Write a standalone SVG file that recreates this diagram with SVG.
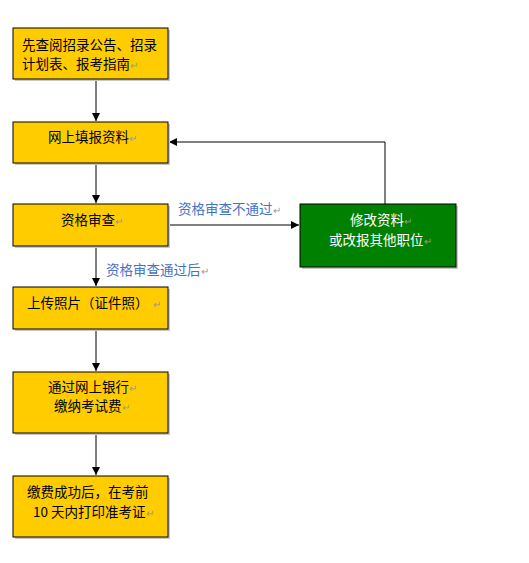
<svg xmlns="http://www.w3.org/2000/svg" width="529" height="563" viewBox="0 0 529 563">
<style>
.box{fill:#FFCC00;stroke:#000;stroke-width:1}
.gbox{fill:#008000;stroke:#000;stroke-width:1}
.sh{fill:#C8C8C8}
text{font-family:"Noto Sans CJK SC","Liberation Sans",sans-serif;font-size:13.5px;fill:#000}
.w{fill:#fff}
.lbl{fill:#4472C4}
.pm{fill:#999;font-size:10px}
.ln{stroke:#000;stroke-width:1;fill:none}
</style>
<defs>
<marker id="ah" viewBox="0 0 10 10" refX="10" refY="5" markerWidth="8" markerHeight="8" markerUnits="userSpaceOnUse" orient="auto">
<path d="M0,0 L10,5 L0,10 z" fill="#000"/>
</marker>
</defs>
<rect width="529" height="563" fill="#fff"/>
<g id="connectors">
<line class="ln" x1="96" y1="79" x2="96" y2="121" marker-end="url(#ah)"/>
<line class="ln" x1="96" y1="163" x2="96" y2="203" marker-end="url(#ah)"/>
<line class="ln" x1="96" y1="246" x2="96" y2="286" marker-end="url(#ah)"/>
<line class="ln" x1="96" y1="329" x2="96" y2="371" marker-end="url(#ah)"/>
<line class="ln" x1="96" y1="433" x2="96" y2="475" marker-end="url(#ah)"/>
<line class="ln" x1="168" y1="225" x2="299" y2="225" marker-end="url(#ah)"/>
<polyline class="ln" points="385,204 385,142 169,142" marker-end="url(#ah)"/>
<text class="lbl" x="178" y="214">资格审查不通过<tspan class="pm">↵</tspan></text>
<text class="lbl" x="106" y="275">资格审查通过后<tspan class="pm">↵</tspan></text>
</g>
<g id="n1">
<rect class="sh" x="15" y="30" width="155" height="51"/>
<rect class="box" x="13" y="28" width="155" height="51"/>
<text x="22" y="50">先查阅招录公告、招录</text>
<text x="22" y="69">计划表、报考指南<tspan class="pm">↵</tspan></text>
</g>
<g id="n2">
<rect class="sh" x="15" y="124" width="155" height="41"/>
<rect class="box" x="13" y="122" width="155" height="41"/>
<text x="48" y="142">网上填报资料<tspan class="pm">↵</tspan></text>
</g>
<g id="n3">
<rect class="sh" x="15" y="206" width="155" height="42"/>
<rect class="box" x="13" y="204" width="155" height="42"/>
<text x="61" y="225">资格审查<tspan class="pm">↵</tspan></text>
</g>
<g id="n4">
<rect class="sh" x="302" y="206" width="156" height="63"/>
<rect class="gbox" x="300" y="204" width="156" height="63"/>
<text class="w" x="350" y="225">修改资料<tspan class="pm">↵</tspan></text>
<text class="w" x="329" y="245">或改报其他职位<tspan class="pm">↵</tspan></text>
</g>
<g id="n5">
<rect class="sh" x="15" y="289" width="155" height="42"/>
<rect class="box" x="13" y="287" width="155" height="42"/>
<text x="27" y="308">上传照片（证件照）<tspan class="pm" dx="4">↵</tspan></text>
</g>
<g id="n6">
<rect class="sh" x="15" y="374" width="155" height="61"/>
<rect class="box" x="13" y="372" width="155" height="61"/>
<text x="48" y="392">通过网上银行<tspan class="pm">↵</tspan></text>
<text x="54" y="411">缴纳考试费<tspan class="pm">↵</tspan></text>
</g>
<g id="n7">
<rect class="sh" x="15" y="478" width="155" height="61"/>
<rect class="box" x="13" y="476" width="155" height="61"/>
<text x="27" y="497">缴费成功后，在考前</text>
<text x="33" y="517">10 天内打印准考证<tspan class="pm">↵</tspan></text>
</g>
</svg>
